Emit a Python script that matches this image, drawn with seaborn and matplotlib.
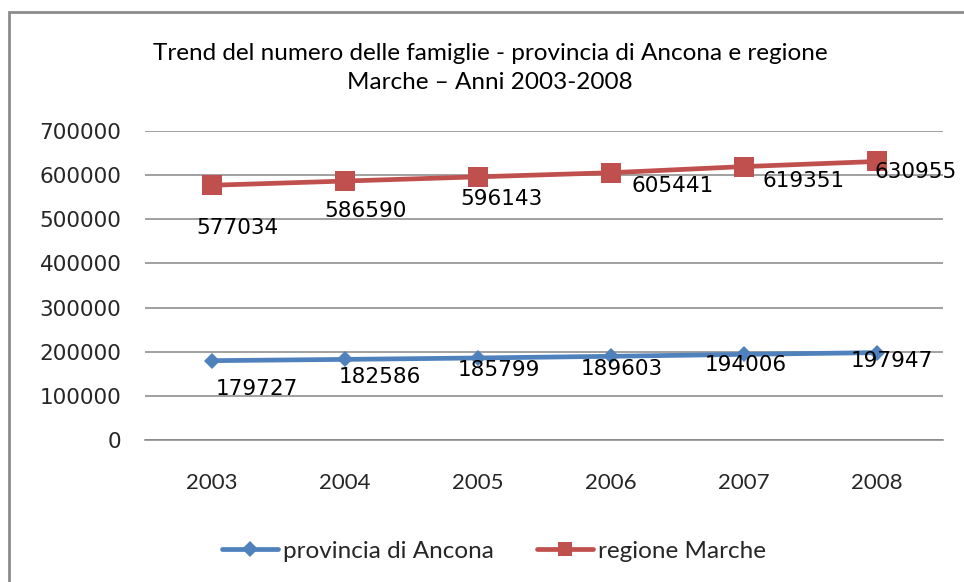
import pandas as pd
import matplotlib.pyplot as plt
import seaborn as sns
from matplotlib.patches import Rectangle

# Dati
anni = [2003, 2004, 2005, 2006, 2007, 2008]
ancona = [179727, 182586, 185799, 189603, 194006, 197947]
marche = [577034, 586590, 596143, 605441, 619351, 630955]
serie = ["provincia di Ancona", "regione Marche"]
y_ticks = [0, 100000, 200000, 300000, 400000, 500000, 600000, 700000]
titolo = "Trend del numero delle famiglie - provincia di Ancona e regione\nMarche \u2013 Anni 2003-2008"

# spostamento delle etichette (pixel, x a destra / y in basso)
off_ancona = [(45, 28), (35, 18), (21, 12), (11, 13), (2, 11), (15, 8)]
off_marche = [(26, 43), (21, 30), (24, 22), (62, 13), (60, 14), (39, 11)]

df = pd.DataFrame({
    "Anno": anni * 2,
    "Famiglie": ancona + marche,
    "Serie": [serie[0]] * len(anni) + [serie[1]] * len(anni),
})

sns.set_theme(style="white")
plt.rcParams["font.family"] = ["DejaVu Sans"]

blu = "#4F81BD"
rosso = "#C0504D"
grigio = "#868686"

fig = plt.figure(figsize=(9.64, 5.82), dpi=100)
ax = fig.add_axes([145 / 964, 1 - 440 / 582, 798 / 964, 309 / 582])

stili = {serie[0]: ("D", 8.5, blu), serie[1]: ("s", 14, rosso)}
for nome, (mk, ms, col) in stili.items():
    sns.lineplot(data=df[df["Serie"] == nome], x="Anno", y="Famiglie",
                 color=col, marker=mk, markersize=ms, markeredgewidth=0,
                 linewidth=3.4, label=nome, ax=ax, zorder=3)

# etichette dei valori
px = 0.72
for valori, offs in [(ancona, off_ancona), (marche, off_marche)]:
    for a, v, (dx, dy) in zip(anni, valori, offs):
        ax.annotate(str(v), (a, v), xytext=(dx * px, -dy * px),
                    textcoords="offset points", ha="center", va="center",
                    fontsize=15.5, color="black", zorder=5)

ax.set_xlim(2002.5, 2008.5)
ax.set_ylim(0, 700000)
ax.set_xticks(anni)
ax.set_xticklabels([str(a) for a in anni], fontsize=16, family="Lato")
ax.set_yticks(y_ticks)
ax.set_yticklabels([str(t) for t in y_ticks], fontsize=15.5)
ax.tick_params(axis="y", length=0, pad=17)
ax.tick_params(axis="x", length=0, pad=24)
ax.set_xlabel("")
ax.set_ylabel("")
ax.yaxis.grid(True, color=grigio, linewidth=1.1)
for s in ["top", "right", "left"]:
    ax.spines[s].set_visible(False)
ax.spines["bottom"].set_color(grigio)
ax.spines["bottom"].set_linewidth(1.1)

leg = ax.legend(loc="center", bbox_to_anchor=(494 / 964, 1 - 551 / 582),
                bbox_transform=fig.transFigure, ncol=2, frameon=False,
                prop={"family": "Lato", "size": 17.5}, handlelength=2.3,
                handletextpad=0.2, columnspacing=1.8)
for h, ms in zip(leg.legend_handles, [8.5, 10.5]):
    h.set_markersize(ms)

fig.text(490 / 964, 1 - 68 / 582, titolo, ha="center", va="center",
         fontsize=17.5, family="Lato", linespacing=1.45, color="black")

# cornice esterna
fig.patches.append(Rectangle((9 / 964, -0.1), 1.2, 1.1 + (1 - 12 / 582) - 1,
                             transform=fig.transFigure, fill=False,
                             edgecolor="#8c8c8c", linewidth=2))

fig.savefig("out.png", dpi=100)
